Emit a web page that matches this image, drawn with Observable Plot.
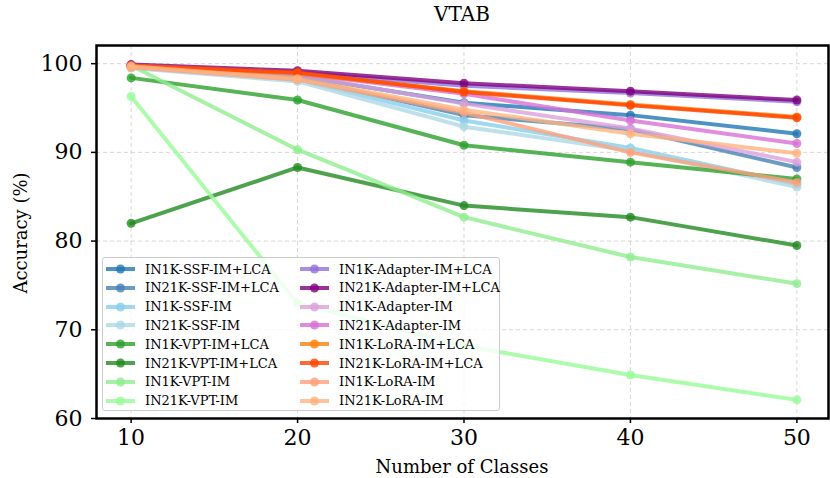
<!DOCTYPE html>
<html><head><meta charset="utf-8">
<script src="https://cdn.jsdelivr.net/npm/d3@7"></script>
<script src="https://cdn.jsdelivr.net/npm/@observablehq/plot@0.6"></script>
<style>
body{margin:0;background:#fff;}
#wrap{position:relative;width:830px;height:478px;font-family:"DejaVu Serif",serif;color:#000;}
#title{position:absolute;left:96px;width:732px;top:2px;text-align:center;font-size:20px;}
#xlab{position:absolute;left:96px;width:732px;top:456px;text-align:center;font-size:18px;}
#ylab{position:absolute;left:20px;top:233px;transform:translate(-50%,-50%) rotate(-90deg);font-size:18px;white-space:nowrap;}
#legend{position:absolute;left:102px;top:257px;width:398px;height:154px;box-sizing:border-box;border:1px solid #ccc;border-radius:3px;background:rgba(255,255,255,0.8);}
.item{position:absolute;height:19px;display:flex;align-items:center;font-size:13px;white-space:nowrap;}
.item svg{margin-right:9px;}
</style></head><body>
<div id="wrap"><div id="title">VTAB</div><div id="xlab">Number of Classes</div><div id="ylab">Accuracy (%)</div><div id="legend"></div></div>
<script>
const classes = [10, 20, 30, 40, 50];
const yTicks = [60, 70, 80, 90, 100];
const seriesNames = [
  "IN1K-SSF-IM+LCA", "IN21K-SSF-IM+LCA", "IN1K-SSF-IM", "IN21K-SSF-IM",
  "IN1K-VPT-IM+LCA", "IN21K-VPT-IM+LCA", "IN1K-VPT-IM", "IN21K-VPT-IM",
  "IN1K-Adapter-IM+LCA", "IN21K-Adapter-IM+LCA", "IN1K-Adapter-IM", "IN21K-Adapter-IM",
  "IN1K-LoRA-IM+LCA", "IN21K-LoRA-IM+LCA", "IN1K-LoRA-IM", "IN21K-LoRA-IM"
];
const seriesColors = [
  "#1f77b4", "#4682b4", "#87ceeb", "#add8e6",
  "#2ca02c", "#228b22", "#90ee90", "#98fb98",
  "#9370db", "#800080", "#dda0dd", "#da70d6",
  "#ff7f0e", "#ff4500", "#ffa07a", "#ffb380"
];
const in1kSsfLca     = [99.8, 98.6, 95.6, 94.2, 92.1];
const in21kSsfLca    = [99.7, 98.4, 94.2, 92.6, 88.3];
const in1kSsfIm      = [99.6, 98.2, 93.6, 90.5, 86.4];
const in21kSsfIm     = [99.5, 98.0, 92.9, 90.2, 86.1];
const in1kVptLca     = [98.4, 95.9, 90.8, 88.9, 87.0];
const in21kVptLca    = [82.0, 88.3, 84.0, 82.7, 79.5];
const in1kVptIm      = [99.8, 90.3, 82.7, 78.2, 75.2];
const in21kVptIm     = [96.3, 73.0, 68.2, 64.9, 62.1];
const in1kAdapterLca = [99.8, 99.0, 97.5, 96.7, 95.7];
const in21kAdapterLca= [99.9, 99.2, 97.8, 96.9, 95.9];
const in1kAdapterIm  = [99.7, 98.7, 95.5, 92.7, 88.9];
const in21kAdapterIm = [99.8, 98.9, 96.6, 93.6, 91.0];
const in1kLoraLca    = [99.7, 98.9, 96.9, 95.4, 94.0];
const in21kLoraLca   = [99.8, 99.0, 96.8, 95.3, 93.9];
const in1kLoraIm     = [99.6, 98.2, 94.5, 90.0, 86.6];
const in21kLoraIm    = [99.7, 98.3, 94.8, 92.1, 89.9];
const seriesValues = [
  in1kSsfLca, in21kSsfLca, in1kSsfIm, in21kSsfIm,
  in1kVptLca, in21kVptLca, in1kVptIm, in21kVptIm,
  in1kAdapterLca, in21kAdapterLca, in1kAdapterIm, in21kAdapterIm,
  in1kLoraLca, in21kLoraLca, in1kLoraIm, in21kLoraIm
];

const perSeries = seriesNames.map((name, i) =>
  classes.map((c, j) => ({series: name, x: c, y: seriesValues[i][j]})));

const seriesMarks = perSeries.flatMap((rows, i) => [
  Plot.line(rows, {x: "x", y: "y", stroke: seriesColors[i], strokeWidth: 4, strokeOpacity: 0.8}),
  Plot.dot(rows, {x: "x", y: "y", fill: seriesColors[i], fillOpacity: 0.8, r: 4.5, stroke: "none"})
]);

const chart = Plot.plot({
  width: 830, height: 478,
  marginLeft: 96, marginRight: 2, marginTop: 45, marginBottom: 60,
  style: {fontFamily: "DejaVu Serif", background: "white", color: "black"},
  x: {domain: [7.92, 51.9]},
  y: {domain: [60, 102.05]},
  marks: [
    Plot.gridX(classes, {stroke: "#b0b0b0", strokeOpacity: 0.5, strokeDasharray: "4,3", strokeWidth: 1}),
    Plot.gridY(yTicks, {stroke: "#b0b0b0", strokeOpacity: 0.5, strokeDasharray: "4,3", strokeWidth: 1}),
    ...seriesMarks,
    Plot.frame({stroke: "black", strokeWidth: 2.5}),
    Plot.axisX(classes, {label: null, tickSize: 5, tickPadding: 6, fontSize: 22, strokeWidth: 1.5}),
    Plot.axisY(yTicks, {label: null, tickSize: 5, tickPadding: 9, fontSize: 22, strokeWidth: 1.5})
  ]
});
document.getElementById("wrap").prepend(chart);
chart.style.position = "absolute"; chart.style.left = "0"; chart.style.top = "0";

const legend = document.getElementById("legend");
seriesNames.forEach((name, i) => {
  const col = Math.floor(i / 4) < 2 ? 0 : 1;
  const row = i % 8;
  const div = document.createElement("div");
  div.className = "item";
  div.style.left = (col === 0 ? 2 : 196) + "px";
  div.style.top = (row * 18.8 + 1.5) + "px";
  div.innerHTML = `<svg width="31" height="10"><line x1="1" x2="30" y1="5" y2="5" stroke="${seriesColors[i]}" stroke-opacity="0.8" stroke-width="4"/><circle cx="15.5" cy="5" r="4.5" fill="${seriesColors[i]}" fill-opacity="0.8"/></svg><span>${name}</span>`;
  legend.appendChild(div);
});
</script></body></html>
